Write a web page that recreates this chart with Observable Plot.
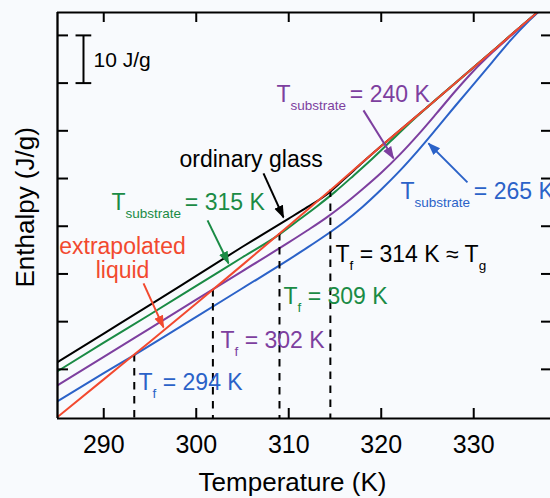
<!DOCTYPE html>
<html>
<head>
<meta charset="utf-8">
<script src="https://cdn.jsdelivr.net/npm/d3@7"></script>
<script src="https://cdn.jsdelivr.net/npm/@observablehq/plot@0.6"></script>
<style>
  html, body { margin: 0; padding: 0; background: #f8fafd; overflow: hidden; }
  #chart svg { display: block; }
</style>
</head>
<body>
<div id="chart"></div>
<script>
// ---------- data ----------
const xTicks = [290, 300, 310, 320, 330];
const yTicks = [10, 20, 30, 40, 50, 60, 70, 80];

// extrapolated liquid
const liquidT = [285, 290, 295, 300, 305, 310, 315, 320, 325, 330, 335, 338.3];
const liquidH = [0, 7.9, 15.8, 23.8, 31.9, 40.1, 48.4, 56.8, 65.0, 73.3, 81.7, 87.2];
// ordinary glass
const glassT = [285, 290, 295, 300, 305, 310, 312, 314, 316, 318, 320, 325, 330, 335, 338.3];
const glassH = [11.5, 17.5, 23.5, 29.6, 35.7, 41.6, 44.0, 46.5, 49.9, 53.4, 56.8, 65.0, 73.3, 81.7, 87.2];
// T_substrate = 315 K
const s315T = [285, 290, 295, 300, 305, 309, 311, 313, 315, 317, 319, 321, 323, 325, 330, 335, 338.3];
const s315H = [9.6, 15.6, 21.5, 27.5, 33.5, 38.3, 41.2, 44.1, 47.2, 50.6, 54.1, 57.8, 61.5, 65.0, 73.3, 81.7, 87.2];
// T_substrate = 240 K
const s240T = [285, 290, 295, 300, 305, 310, 312, 314, 316, 318, 320, 322, 324, 326, 328, 330, 332, 334, 336, 338.3];
const s240H = [6.65, 12.6, 18.6, 24.6, 30.6, 36.6, 39.1, 41.7, 44.6, 47.8, 51.2, 55.0, 59.2, 63.7, 68.3, 72.6, 76.4, 79.9, 83.3, 87.2];
// T_substrate = 265 K
const s265T = [285, 290, 293.2, 300, 305, 310, 312, 314, 316, 318, 320, 322, 324, 326, 328, 330, 332, 334, 336, 338.3];
const s265H = [3.3, 9.2, 12.9, 21.0, 27.0, 33.0, 35.5, 38.1, 40.9, 44.1, 47.7, 51.6, 55.9, 60.5, 65.2, 69.8, 74.4, 79.0, 83.1, 87.2];

// fictive temperatures (dashed lines)
const tfT = [293.3, 301.8, 309.0, 314.5];

// ---------- annotations ----------
const BLACK = "#000000", GREEN = "#1a8b45", PURPLE = "#7d3f9f", BLUE = "#2b62c8", RED = "#f2492f";
const labelText = ["T_{substrate }= 240 K", "T_{substrate }= 265 K", "T_{substrate }= 315 K", "ordinary glass",
                   "T_{f} = 314 K ≈ T_{g}", "T_{f} = 309 K", "T_{f} = 302 K", "T_{f} = 294 K"];
const labelT = [308.68, 322.08, 290.84, 298.19, 315.05, 309.43, 302.62, 293.76];
const labelH = [66.07, 45.74, 43.33, 52.34, 32.53, 23.73, 14.4, 5.7];
const labelColor = [PURPLE, BLUE, GREEN, BLACK, BLACK, GREEN, PURPLE, BLUE];

const arrowT1 = [318.08, 329.32, 301.22, 307.27, 294.30];
const arrowH1 = [64.29, 49.2, 41.23, 51.08, 28.03];
const arrowT2 = [321.32, 325.11, 303.49, 309.43, 296.46];
const arrowH2 = [54.23, 57.37, 32.22, 41.86, 18.8];
const arrowColor = [PURPLE, BLUE, GREEN, BLACK, RED];

// ---------- build ----------
const xDomain = [285, 338.3];
const yDomain = [-0.3, 84.8];
const W = 550, H = 498, mT = 12, mB = 80, mL = 57, mR = 0;
const pw = W - mL - mR, ph = H - mT - mB;

const zip = (T, Hs) => T.map((t, i) => ({T: t, H: Hs[i]}));
const series = [
  {data: zip(glassT, glassH), color: BLACK},
  {data: zip(s315T, s315H), color: GREEN},
  {data: zip(s240T, s240H), color: PURPLE},
  {data: zip(s265T, s265H), color: BLUE},
  {data: zip(liquidT, liquidH), color: RED}
];
const liquidAt = d3.scaleLinear().domain(liquidT).range(liquidH);
const tfData = tfT.map(t => ({T: t, top: liquidAt(t)}));
const labels = labelText.map((s, i) => ({s, T: labelT[i], H: labelH[i], c: labelColor[i]}));
const arrows = arrowT1.map((t, i) => ({x1: t, y1: arrowH1[i], x2: arrowT2[i], y2: arrowH2[i], c: arrowColor[i]}));

function filledArrow(color) {
  const ns = "http://www.w3.org/2000/svg";
  const m = document.createElementNS(ns, "marker");
  m.setAttribute("viewBox", "0 -5 10 10");
  m.setAttribute("refX", "9");
  m.setAttribute("refY", "0");
  m.setAttribute("markerUnits", "userSpaceOnUse");
  m.setAttribute("markerWidth", "13");
  m.setAttribute("markerHeight", "13");
  m.setAttribute("orient", "auto");
  const p = document.createElementNS(ns, "path");
  p.setAttribute("d", "M0,-3.6L10,0L0,3.6Z");
  p.setAttribute("fill", color);
  p.setAttribute("stroke", "none");
  m.appendChild(p);
  return m;
}

function build(marker) {
  return Plot.plot({
    width: W, height: H,
    marginTop: mT, marginBottom: mB, marginLeft: mL, marginRight: mR,
    x: {domain: xDomain, axis: null},
    y: {domain: yDomain, axis: null},
    color: {type: "identity"},
    style: {background: "#f8fafd", fontFamily: "'Liberation Sans', Arial, Helvetica, sans-serif", overflow: "visible"},
    marks: [
      ...series.slice(0, 4).map(s => Plot.line(s.data, {x: "T", y: "H", stroke: s.color, strokeWidth: 2, curve: "monotone-x", clip: true})),
      Plot.ruleX(tfData, {x: "T", y1: "top", y2: yDomain[0], stroke: "#000", strokeWidth: 2, strokeDasharray: "7.5,6.5"}),
      Plot.line(series[4].data, {x: "T", y: "H", stroke: RED, strokeWidth: 2, curve: "monotone-x", clip: true}),
      // frame
      Plot.ruleX([xDomain[0]], {stroke: "#000", strokeWidth: 2.3}),
      Plot.ruleY([yDomain[0], yDomain[1]], {stroke: "#000", strokeWidth: 2.2}),
      // inward ticks
      Plot.ruleX(xTicks, {stroke: "#000", strokeWidth: 2, insetTop: ph - 10}),
      Plot.ruleX(xTicks, {stroke: "#000", strokeWidth: 2, insetBottom: ph - 10}),
      Plot.ruleY(yTicks, {stroke: "#000", strokeWidth: 2, insetRight: pw - 11}),
      Plot.ruleY(yTicks, {stroke: "#000", strokeWidth: 2, insetLeft: pw - 9}),
      // tick labels
      Plot.text(xTicks, {x: d => d, frameAnchor: "bottom", dy: 17, lineAnchor: "top", fontSize: 25, fill: "#000", text: d => String(d)}),
      // axis titles
      Plot.text(["Temperature (K)"], {x: 310.41, y: -15.57, text: d => d, fontSize: 26, lineAnchor: "bottom", textAnchor: "middle", fill: "#000"}),
      Plot.text(["Enthalpy (J/g)"], {x: 282.51, y: 43.96, text: d => d, fontSize: 26, rotate: -90, lineAnchor: "bottom", textAnchor: "middle", fill: "#000"}),
      // scale bar
      Plot.link([0], {x1: 287.81, x2: 287.81, y1: 70, y2: 80, stroke: "#000", strokeWidth: 2}),
      Plot.link([70, 80], {x1: 286.95, x2: 288.65, y1: d => d, y2: d => d, stroke: "#000", strokeWidth: 2}),
      Plot.text(["10 J/g"], {x: 288.89, y: 73.4, text: d => d, fontSize: 21, textAnchor: "start", lineAnchor: "bottom", fill: "#000"}),
      // arrows
      Plot.link(arrows, {x1: "x1", y1: "y1", x2: "x2", y2: "y2", stroke: "c", strokeWidth: 2, markerEnd: marker}),
      // labels
      Plot.text(labels, {x: "T", y: "H", text: "s", fill: "c", fontSize: 23, textAnchor: "start", lineAnchor: "bottom"}),
      Plot.text(["extrapolated\nliquid"], {x: 292.03, y: 29.07, text: d => d, fill: RED, fontSize: 23, textAnchor: "middle", lineAnchor: "bottom", lineHeight: 1.07})
    ]
  });
}

let chart;
try { chart = build(filledArrow); } catch (e) { chart = build("arrow"); }

// subscripts: turn "_{...}" into real tspans
const NS = "http://www.w3.org/2000/svg";
chart.querySelectorAll("text").forEach(t => {
  const s = t.textContent;
  if (!s.includes("_{")) return;
  const parts = s.split(/_\{([^}]*)\}/);
  t.textContent = "";
  let shifted = false;
  parts.forEach((p, i) => {
    if (p === "") return;
    const ts = document.createElementNS(NS, "tspan");
    ts.textContent = p;
    if (i % 2 === 1) {
      ts.setAttribute("font-size", "13.5");
      if (!shifted) { ts.setAttribute("dy", "8"); shifted = true; }
    } else if (shifted) {
      ts.setAttribute("dy", "-8"); shifted = false;
    }
    t.appendChild(ts);
  });
});

document.getElementById("chart").appendChild(chart);
</script>
</body>
</html>
